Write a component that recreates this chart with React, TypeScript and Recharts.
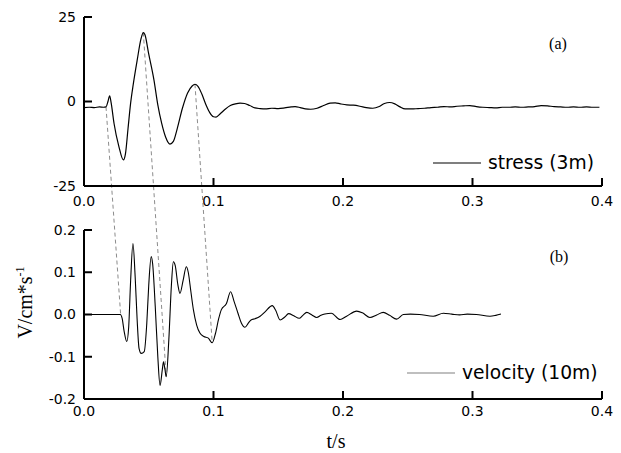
import React from "react";
import { LineChart, Line, XAxis, YAxis, ReferenceLine, Legend } from "recharts";

// [t (s), stress]
const stressSamples: [number, number][] = [
  [0, -1.8], [0.004, -1.7], [0.008, -1.8], [0.012, -1.6], [0.015, -1.7], [0.017, -1.6],
  [0.0185, 0.0], [0.0198, 1.7], [0.021, -0.5], [0.0232, -6.5], [0.027, -13.4], [0.0304, -17.3],
  [0.032, -15.5], [0.034, -8], [0.036, -0.5], [0.038, 5], [0.0411, 12.3], [0.044, 18.5],
  [0.0458, 20.4], [0.047, 19.8], [0.05, 14], [0.054, 6.4], [0.057, -1], [0.06, -6.5],
  [0.063, -10.5], [0.0664, -12.6], [0.069, -11.8], [0.072, -8], [0.076, -2], [0.08, 2.5],
  [0.0835, 4.6], [0.0857, 5.1], [0.088, 4.5], [0.091, 2.2], [0.094, -0.8], [0.097, -3.2],
  [0.1, -4.5], [0.102, -4.6], [0.105, -3.7], [0.109, -2.3], [0.113, -1.2], [0.117, -0.7],
  [0.1205, -0.5], [0.124, -0.6], [0.128, -1.2], [0.132, -1.9], [0.136, -2.1], [0.14, -2.2],
  [0.145, -2.0], [0.15, -2.1], [0.155, -1.9], [0.16, -1.6], [0.163, -1.5], [0.167, -1.8],
  [0.171, -2.2], [0.175, -2.3], [0.18, -2.0], [0.185, -1.2], [0.19, -0.5], [0.194, -0.4],
  [0.198, -0.7], [0.203, -1.0], [0.208, -1.1], [0.213, -1.4], [0.218, -1.8], [0.223, -2.0],
  [0.228, -1.5], [0.232, -0.6], [0.236, -0.3], [0.24, -0.7], [0.244, -1.6], [0.248, -2.2],
  [0.253, -2.2], [0.258, -2.1], [0.263, -2.0], [0.268, -1.8], [0.273, -1.7], [0.278, -1.5],
  [0.283, -1.6], [0.288, -1.4], [0.293, -1.3], [0.298, -1.2], [0.303, -1.5], [0.308, -1.7],
  [0.313, -1.8], [0.318, -1.9], [0.323, -1.7], [0.328, -1.7], [0.333, -1.6], [0.338, -1.7],
  [0.343, -1.6], [0.348, -1.5], [0.353, -1.2], [0.358, -1.3], [0.363, -1.5], [0.368, -1.6],
  [0.373, -1.7], [0.378, -1.6], [0.383, -1.7], [0.388, -1.6], [0.393, -1.7], [0.398, -1.7],
];

// [t (s), velocity]
const velocitySamples: [number, number][] = [
  [0, 0], [0.028, 0], [0.0295, -0.01], [0.031, -0.04], [0.033, -0.064], [0.0345, -0.03],
  [0.036, 0.08], [0.0378, 0.168], [0.0395, 0.09], [0.041, -0.01], [0.0425, -0.08], [0.0442, -0.092],
  [0.0465, -0.088], [0.0485, -0.02], [0.05, 0.07], [0.0519, 0.137], [0.053, 0.12], [0.055, 0.02],
  [0.057, -0.1], [0.0587, -0.168], [0.0605, -0.13], [0.0614, -0.112], [0.0625, -0.13], [0.0635, -0.147],
  [0.0655, -0.06], [0.0675, 0.07], [0.069, 0.125], [0.0705, 0.115], [0.0725, 0.07], [0.0741, 0.05],
  [0.0765, 0.08], [0.079, 0.113], [0.0805, 0.1], [0.0825, 0.055], [0.0845, 0.011], [0.087, -0.025],
  [0.0895, -0.044], [0.0925, -0.052], [0.096, -0.056], [0.099, -0.067], [0.1015, -0.045], [0.104, -0.01],
  [0.106, 0.011], [0.11, 0.026], [0.1132, 0.054], [0.116, 0.03], [0.1189, 0.003], [0.1215, -0.02],
  [0.1243, -0.03], [0.127, -0.02], [0.129, -0.013], [0.132, -0.01], [0.136, -0.004], [0.14, 0.007],
  [0.1454, 0.021], [0.148, 0.01], [0.1514, -0.013], [0.155, -0.006], [0.158, 0.002], [0.162, -0.003],
  [0.1662, -0.009], [0.169, -0.002], [0.172, 0.005], [0.176, -0.001], [0.1797, -0.007], [0.183, -0.002],
  [0.186, 0.001], [0.191, 0.003], [0.1977, -0.012], [0.2028, -0.004], [0.2106, 0.008], [0.215, 0.004],
  [0.2208, -0.007], [0.226, -0.001], [0.2311, 0.005], [0.236, -0.002], [0.2414, -0.011], [0.2466, 0.0],
  [0.252, 0.001], [0.259, 0.0], [0.2697, -0.004], [0.2775, 0.003], [0.284, 0.001], [0.29, -0.001],
  [0.296, 0.001], [0.303, 0.0], [0.3135, -0.004], [0.318, -0.002], [0.322, 0.001],
];

const timeTicks = [0, 0.1, 0.2, 0.3, 0.4];
const stressTicks = [-25, 0, 25];
const velocityTicks = [-0.2, -0.1, 0, 0.1, 0.2];

// dashed guides: feature in (a) -> matching feature in (b)
const linkStress: [number, number][] = [[0.017, -1.6], [0.0458, 20.4], [0.0857, 5.1]];
const linkVelocity: [number, number][] = [[0.0283, 0], [0.0635, -0.147], [0.099, -0.067]];

const W = 621;
const H = 453;
const PLOT_LEFT = 84;
const PLOT_RIGHT = 602;
const TOP_Y0 = 17;
const TOP_Y1 = 186;
const BOT_Y0 = 230;
const BOT_Y1 = 399;
const TOP_XAXIS_H = 30;

const stressData = stressSamples.map(([t, s]) => ({ t, s }));
const velocityData = velocitySamples.map(([t, v]) => ({ t, v }));

// express a velocity value in the stress axis units of panel (a), so a guide can cross both panels
const velToStressUnits = (v: number) => {
  const py = BOT_Y0 + ((0.2 - v) / 0.4) * (BOT_Y1 - BOT_Y0);
  return 25 - ((py - TOP_Y0) / (TOP_Y1 - TOP_Y0)) * 50;
};

const sans = "'DejaVu Sans', Arial, sans-serif";
const serif = "'Liberation Serif', 'Times New Roman', serif";
const axisStyle = { stroke: "#000", strokeWidth: 2 };
const tickStyle = { fill: "#000", fontSize: 14, fontFamily: sans };

const LegendKey = ({ label, color }: { label: string; color: string }) => (
  <svg width={190} height={24} style={{ display: "block" }}>
    <line x1={0} x2={48} y1={12} y2={12} stroke={color} strokeWidth={1.2} />
    <text x={55} y={18} style={{ fontFamily: sans, fontSize: 18.7 }} fill="#000">
      {label}
    </text>
  </svg>
);

const VelocityAxisLabel = (props: any) => {
  const vb = props.viewBox || { x: 0, y: BOT_Y0, height: BOT_Y1 - BOT_Y0 };
  const x = vb.x + 32;
  const y = vb.y + vb.height / 2 - 12;
  return (
    <text x={x} y={y} transform={`rotate(-90 ${x} ${y})`} textAnchor="middle" style={{ fontFamily: serif, fontSize: 20 }} fill="#000">
      V/cm*s
      <tspan dy={-8} style={{ fontSize: 12 }}>-1</tspan>
    </text>
  );
};

const TimeAxisLabel = (props: any) => {
  const vb = props.viewBox || { x: PLOT_LEFT, y: BOT_Y1, width: PLOT_RIGHT - PLOT_LEFT, height: H - BOT_Y1 };
  return (
    <text x={vb.x + vb.width / 2 - 7} y={vb.y + vb.height - 5} textAnchor="middle" style={{ fontFamily: serif, fontSize: 20 }} fill="#000">
      t/s
    </text>
  );
};

export default function App() {
  return (
    <div style={{ position: "relative", width: W, height: H, background: "#fff", overflow: "hidden" }}>
      <style>{`body{margin:0}`}</style>

      <div style={{ position: "absolute", left: 0, top: 0 }}>
        <LineChart
          width={W}
          height={H}
          data={stressData}
          margin={{ top: TOP_Y0, right: W - PLOT_RIGHT, bottom: H - TOP_Y1 - TOP_XAXIS_H, left: 0 }}
        >
          <XAxis
            dataKey="t"
            type="number"
            domain={[0, 0.4]}
            ticks={timeTicks}
            interval={0}
            tickFormatter={(v: number) => v.toFixed(1)}
            height={TOP_XAXIS_H}
            tickSize={-8}
            tickMargin={18}
            axisLine={axisStyle}
            tickLine={axisStyle}
            tick={tickStyle}
          />
          <YAxis
            type="number"
            domain={[-25, 25]}
            ticks={stressTicks}
            interval={0}
            width={PLOT_LEFT}
            tickSize={-8}
            tickMargin={16}
            axisLine={axisStyle}
            tickLine={axisStyle}
            tick={tickStyle}
          />
          {linkStress.map(([t1, s1], i) => (
            <ReferenceLine
              key={i}
              segment={[
                { x: t1, y: s1 },
                { x: linkVelocity[i][0], y: velToStressUnits(linkVelocity[i][1]) },
              ]}
              ifOverflow="visible"
              stroke="#8c8c8c"
              strokeWidth={1}
              strokeDasharray="4 3"
            />
          ))}
          <Line
            dataKey="s"
            name="stress (3m)"
            type="monotone"
            stroke="#000"
            strokeWidth={1.2}
            dot={false}
            activeDot={false}
            isAnimationActive={false}
          />
          <Legend
            layout="horizontal"
            align="center"
            verticalAlign="middle"
            wrapperStyle={{ top: 150.7, left: 433, width: 190, height: 24 }}
            content={() => <LegendKey label="stress (3m)" color="#000" />}
          />
        </LineChart>
      </div>

      <div style={{ position: "absolute", left: 0, top: 0 }}>
        <LineChart
          width={W}
          height={H}
          data={velocityData}
          margin={{ top: BOT_Y0, right: W - PLOT_RIGHT, bottom: 0, left: 0 }}
        >
          <XAxis
            dataKey="t"
            type="number"
            domain={[0, 0.4]}
            ticks={timeTicks}
            interval={0}
            tickFormatter={(v: number) => v.toFixed(1)}
            height={H - BOT_Y1}
            tickSize={-8}
            tickMargin={15}
            axisLine={axisStyle}
            tickLine={axisStyle}
            tick={tickStyle}
            label={{ content: TimeAxisLabel }}
          />
          <YAxis
            type="number"
            domain={[-0.2, 0.2]}
            ticks={velocityTicks}
            interval={0}
            tickFormatter={(v: number) => v.toFixed(1)}
            width={PLOT_LEFT}
            tickSize={-8}
            tickMargin={16}
            axisLine={axisStyle}
            tickLine={axisStyle}
            tick={tickStyle}
            label={{ content: VelocityAxisLabel }}
          />
          <Line
            dataKey="v"
            name="velocity (10m)"
            type="monotone"
            stroke="#000"
            strokeWidth={1.1}
            dot={false}
            activeDot={false}
            isAnimationActive={false}
          />
          <Legend
            layout="horizontal"
            align="center"
            verticalAlign="middle"
            wrapperStyle={{ top: 361.3, left: 407, width: 200, height: 24 }}
            content={() => <LegendKey label="velocity (10m)" color="#808080" />}
          />
        </LineChart>
      </div>

      <svg width={W} height={H} style={{ position: "absolute", left: 0, top: 0, pointerEvents: "none" }}>
        <text x={558} y={49} textAnchor="middle" style={{ fontFamily: serif, fontSize: 16 }} fill="#000">(a)</text>
        <text x={559} y={262} textAnchor="middle" style={{ fontFamily: serif, fontSize: 16 }} fill="#000">(b)</text>
      </svg>
    </div>
  );
}
